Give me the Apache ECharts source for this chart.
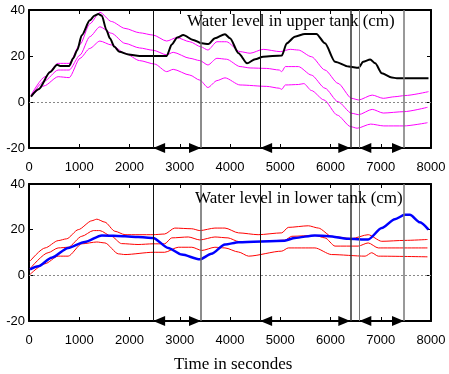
<!DOCTYPE html>
<html>
<head>
<meta charset="utf-8">
<script src="https://cdn.jsdelivr.net/npm/echarts@6/dist/echarts.min.js"></script>
<style>
  html, body { margin: 0; padding: 0; background: #fff; }
  #chart { width: 449px; height: 374px; }
</style>
</head>
<body>
<div id="chart"></div>
<script>
// upper tank: measured level (black) and the three model curves (magenta)
const upperLevel = [[40,2.3],[190,5.5],[420,13],[560,16.2],[620,15.7],[800,15.7],[880,19],[960,22.6],[1050,29],[1210,35.5],[1300,37.5],[1380,38.3],[1450,37.5],[1540,31.3],[1610,27.7],[1700,24],[1800,21.8],[1980,20.7],[2200,20],[2740,20],[2840,25],[2950,28],[3070,29.1],[3270,27],[3440,25.5],[3570,25.2],[3700,27.7],[3900,29.5],[4000,27.7],[4170,21.2],[4340,16.8],[4500,18.6],[4660,19.7],[5030,20.2],[5130,25.5],[5290,28.4],[5490,29.6],[5720,29.6],[5890,25.5],[6090,17.5],[6360,15.4],[6560,14.9],[6650,17.5],[6790,18.5],[6890,16.8],[7020,12.5],[7220,10.7],[7320,10.3],[7950,10.3]];
const upperHigh = [[40,3],[320,11],[580,16.8],[800,16.8],[1015,25],[1210,34],[1410,39],[1640,35],[1910,32],[2200,30.1],[2470,29.1],[2740,26.5],[2940,28],[3200,26.2],[3420,24],[3560,22.6],[3740,26.2],[3930,26.2],[4200,21.9],[4400,21.2],[4660,22.9],[5000,21.9],[5200,22.9],[5360,22.6],[5620,19.7],[5890,13.9],[6150,8.1],[6420,1.6],[6560,0.9],[6830,3],[7050,1.6],[7280,2.3],[7480,2.8],[7950,4.5]];
const upperMid = [[40,2.5],[300,9],[580,13.9],[800,13.9],[1015,20.4],[1210,28.4],[1410,32.7],[1640,29.9],[1910,25.5],[2200,23.5],[2470,22.5],[2740,20.5],[2870,21.6],[3200,19],[3400,18],[3560,16.1],[3740,19],[3930,18.6],[4200,15.4],[4400,14.8],[4730,14.6],[4980,13.9],[5030,13.2],[5100,15.4],[5360,15.4],[5620,11.7],[5890,6],[6150,0.1],[6420,-4.9],[6560,-5.5],[6830,-3.2],[7050,-4.8],[7460,-4.2],[7930,-2.3]];
const upperLow = [[40,2.2],[300,7],[580,11],[800,10.6],[1015,19],[1210,23.3],[1410,26.5],[1640,24.8],[1910,21.2],[2200,18],[2500,16.5],[2740,13.2],[2870,14.2],[3200,11.7],[3400,9.5],[3560,6.3],[3740,9.3],[3900,10.5],[4200,7.4],[4730,6.8],[4980,6],[5030,5.5],[5100,7.4],[5360,7.6],[5470,8],[5620,5],[5870,0.9],[6135,-5.7],[6400,-10.7],[6530,-11.4],[6800,-9.6],[7060,-10.4],[7460,-10.4],[7930,-9]];

// lower tank: measured level (blue) and the three model curves (red)
const lowerLevel = [[20,2.6],[185,4],[450,7.7],[780,12],[1110,14.6],[1450,17.5],[1910,17.1],[2170,16.8],[2470,16.4],[2770,12],[3040,9.1],[3400,7],[3630,9.4],[3900,13.5],[4170,14.5],[5090,15.2],[5290,16.4],[5690,17.5],[5960,17.1],[6350,16],[6750,15.7],[7020,20.7],[7280,24.6],[7480,26.5],[7580,26.5],[7780,23.2],[7950,20]];
const lowerHigh = [[20,6.2],[320,12],[580,15.2],[750,16],[980,20],[1250,23.9],[1350,24.6],[1510,23.3],[1710,19.3],[1910,17.8],[2470,17.8],[2700,18.1],[2900,20.7],[3240,20.4],[3400,19.6],[3700,20.7],[3900,20.7],[4170,18.6],[4560,17.8],[5030,18.6],[5160,21],[5560,21.7],[5760,20.7],[6020,17.1],[6420,16.1],[6750,17.8],[7020,14.9],[7480,15.3],[7930,15.7]];
const lowerMid = [[20,2.9],[380,9.9],[580,12],[780,12.3],[1050,17.1],[1280,19.6],[1410,19.6],[1640,17.1],[1840,13.9],[2170,13.5],[2470,13.8],[2700,13.8],[2840,16.4],[3170,16.8],[3400,15.5],[3700,16.8],[3960,16.4],[4170,14.8],[4560,14.8],[5090,15.4],[5230,17.1],[5690,17.5],[5890,16.4],[6090,12.8],[6550,12.8],[6750,14.2],[6950,12],[7930,12]];
const lowerLow = [[20,0.4],[320,5.1],[580,8.4],[780,8.4],[1050,13.8],[1350,14.6],[1510,14.2],[1780,9.4],[1910,9.1],[2470,10.1],[2700,10.1],[2970,12.3],[3240,12.3],[3440,10.9],[3700,12.3],[3900,12],[4170,10.2],[4370,8.4],[5030,10.6],[5160,12],[5690,12],[6020,9.1],[6690,8.4],[6820,9.9],[6950,8.4],[7930,8.1]];

const switchTimes = [2470, 3423, 4600, 6394, 6574, 7463];
const arrowSpans = [[2470, 3423], [4600, 6394], [6574, 7463]];
const timeTicks = [0, 1000, 2000, 3000, 4000, 5000, 6000, 7000, 8000];
const levelTicks = [-20, 0, 20, 40];

const titles = ['Water level in upper tank (cm)', 'Water level in lower tank (cm)'];
const timeLabel = 'Time in secondes';

const chart = echarts.init(document.getElementById('chart'));

const blackLine = {show: true, onZero: false, lineStyle: {color: '#000', width: 2}};
const inTicks = {show: true, inside: true, length: 4, lineStyle: {color: '#000', width: 1}};
const labelFont = {color: '#000', fontSize: 13, fontFamily: 'Liberation Sans', formatter: v => String(v)};
const guideColors = ['#111', '#666', '#111', '#333', '#777', '#777'];

function timeAxes(gridIndex) {
  const base = {
    type: 'value', gridIndex,
    min: timeTicks[0], max: timeTicks[timeTicks.length - 1],
    interval: timeTicks[1] - timeTicks[0],
    axisLine: blackLine, axisTick: inTicks, splitLine: {show: false}
  };
  return [
    {...base, position: 'bottom', axisLabel: {...labelFont, margin: 13}},
    {...base, position: 'top', axisLabel: {show: false}}
  ];
}

function levelAxes(gridIndex) {
  const base = {
    type: 'value', gridIndex,
    min: levelTicks[0], max: levelTicks[levelTicks.length - 1],
    interval: levelTicks[1] - levelTicks[0],
    axisLine: blackLine, axisTick: inTicks, splitLine: {show: false}
  };
  return [
    {...base, position: 'left', axisLabel: {...labelFont, margin: 4}},
    {...base, position: 'right', axisLabel: {show: false}}
  ];
}

function guides() {
  return {
    silent: true, symbol: 'none', animation: false,
    label: {show: false},
    lineStyle: {type: 'solid', color: '#000', width: 1},
    emphasis: {disabled: true},
    data: [
      {yAxis: 0, lineStyle: {type: [2, 2], color: '#888', width: 1}},
      ...switchTimes.map((t, i) => ({xAxis: t, lineStyle: {color: guideColors[i], width: i % 2 ? 1.5 : 1}}))
    ]
  };
}

function arrows() {
  const end = t => ({coord: [t, levelTicks[0]], symbol: 'triangle', symbolSize: [10, 12], symbolOffset: [0, 6]});
  return {
    silent: true, symbol: 'none', animation: false,
    label: {show: false},
    lineStyle: {type: 'solid', color: '#000', width: 2},
    emphasis: {disabled: true},
    data: arrowSpans.map(([a, b]) => [end(a), end(b)])
  };
}

function curve(data, color, width, axis, extra) {
  return {
    type: 'line', data, xAxisIndex: axis, yAxisIndex: axis,
    showSymbol: false, symbol: 'none', smooth: 0.25, smoothMonotone: 'x',
    lineStyle: {color, width}, emphasis: {disabled: true},
    animation: false, clip: false, ...extra
  };
}

const titleStyle = {fontFamily: 'Liberation Serif', fontSize: 17, fontWeight: 'normal', color: '#000'};

chart.setOption({
  animation: false,
  title: [
    {text: titles[0], left: 187, top: 13, padding: 0, textStyle: titleStyle},
    {text: titles[1], left: 195, top: 190, padding: 0, textStyle: titleStyle},
    {text: timeLabel, left: 174, top: 356, padding: 0, textStyle: titleStyle}
  ],
  grid: [
    {left: 29, top: 10, width: 402, height: 138, outerBoundsMode: 'none'},
    {left: 29, top: 184, width: 402, height: 137, outerBoundsMode: 'none'}
  ],
  xAxis: [...timeAxes(0), ...timeAxes(1)],
  yAxis: [...levelAxes(0), ...levelAxes(1)],
  series: [
    curve(upperHigh, '#ff00ff', 1, 0, {markLine: arrows()}),
    curve(upperMid, '#ff00ff', 1, 0),
    curve(upperLow, '#ff00ff', 1, 0),
    curve(upperLevel, '#000', 2, 0, {markLine: guides()}),
    curve(lowerHigh, '#ff0000', 1, 2, {markLine: arrows()}),
    curve(lowerMid, '#ff0000', 1, 2),
    curve(lowerLow, '#ff0000', 1, 2),
    curve(lowerLevel, '#0000ff', 2.5, 2, {markLine: guides()})
  ]
});
</script>
</body>
</html>
